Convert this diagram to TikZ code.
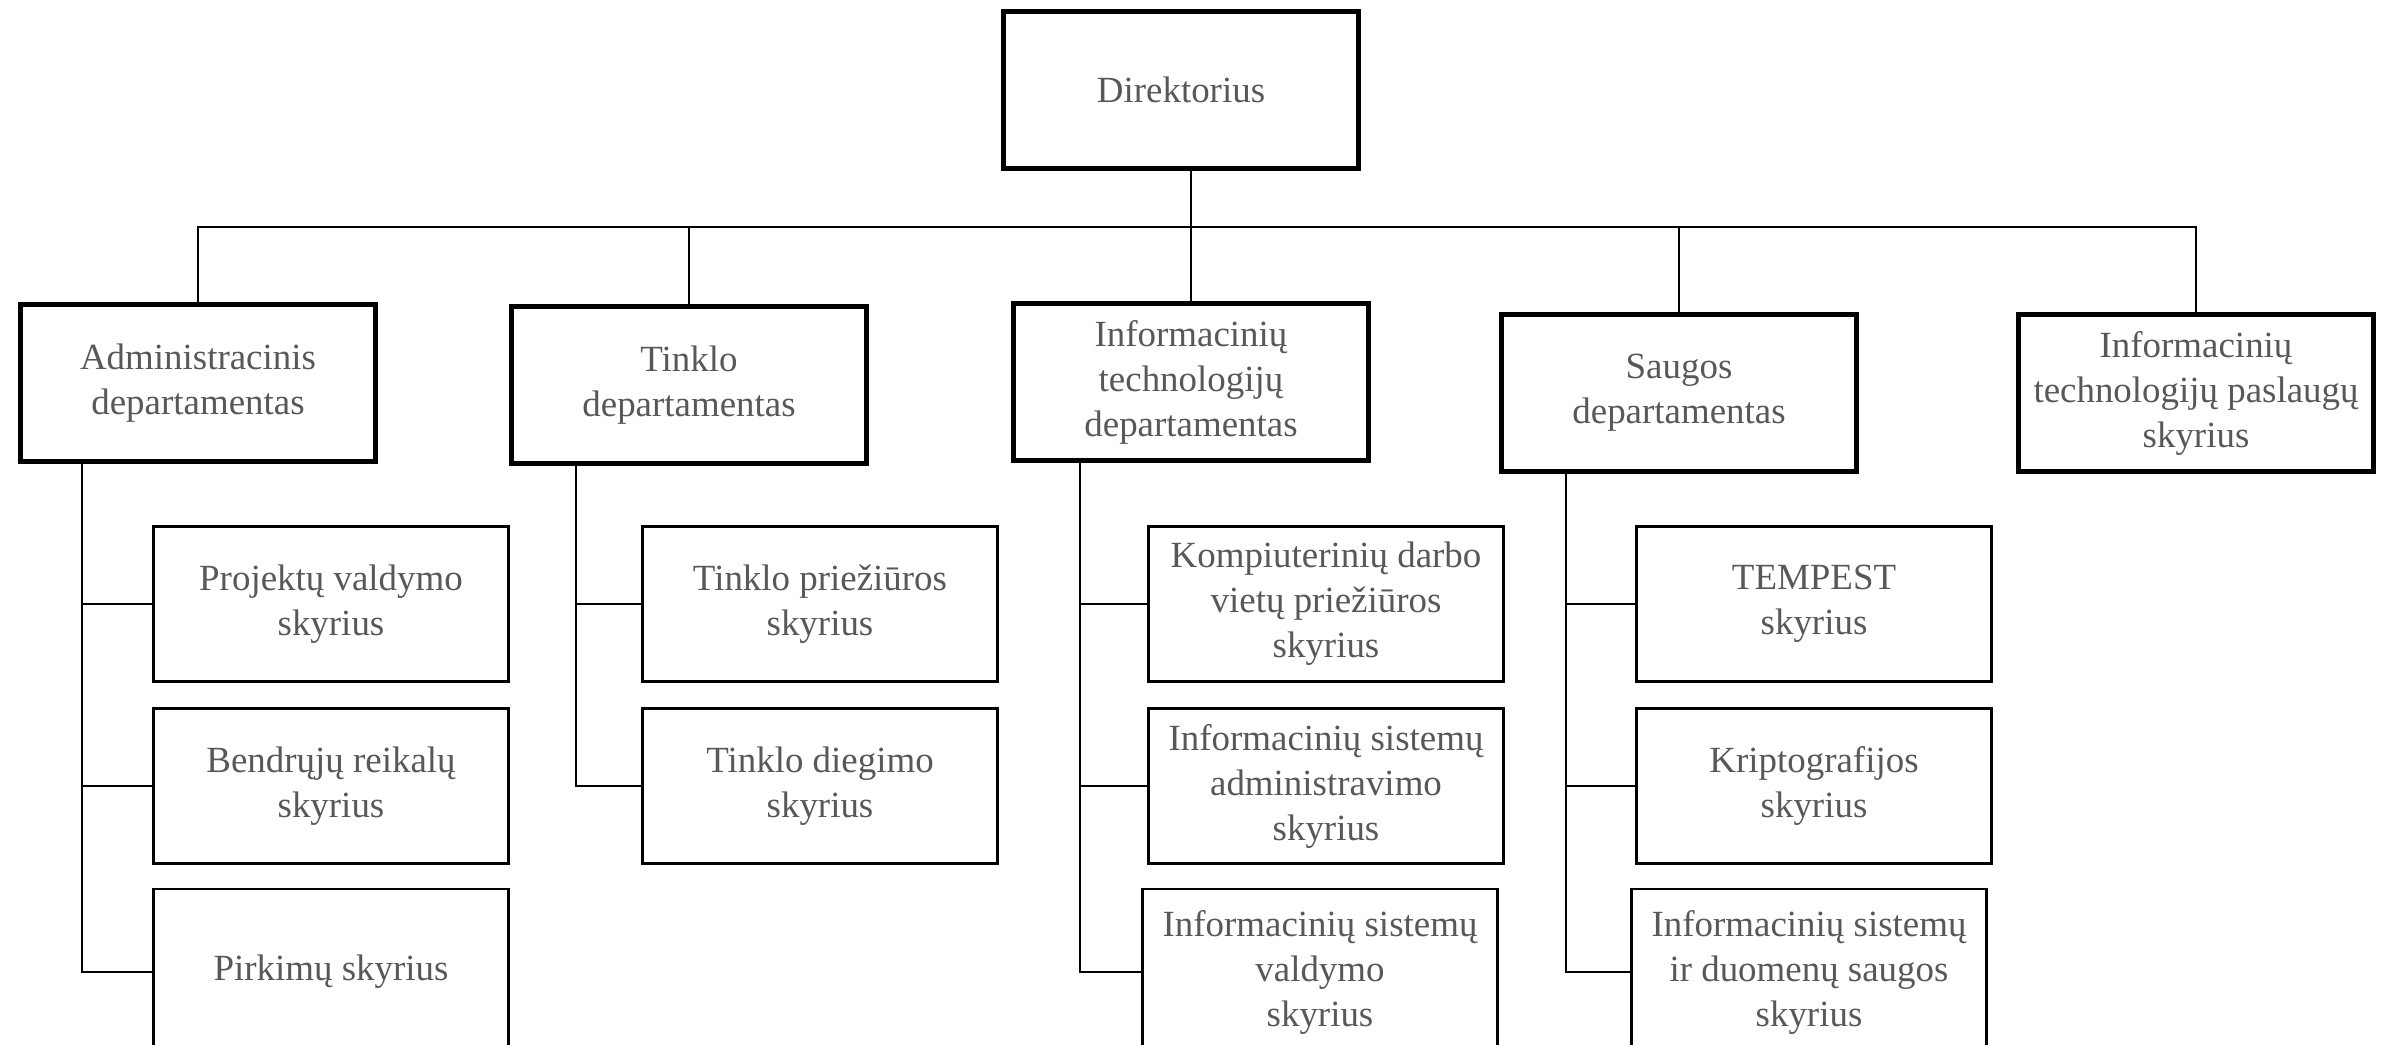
\documentclass[tikz,border=0pt]{standalone}
\usepackage{fontspec}
\setmainfont{Liberation Serif}
\definecolor{txtgray}{RGB}{88,88,88}

\begin{document}
\begin{tikzpicture}[x=0.01cm,y=-0.01cm,
  box/.style={draw,align=center,inner sep=0pt,text=txtgray,font=\fontsize{10.5}{12.8}\selectfont},
  dept/.style={box,line width=0.5mm,minimum width=3.54cm,minimum height=1.56cm},
  sub/.style={box,line width=0.28mm,minimum width=3.55cm,minimum height=1.55cm},
  link/.style={line width=0.2mm}]
\useasboundingbox (0,0) rectangle (2383,1044);

\node[dept](dir) at (1181,90) {Direktorius};
\node[dept](adm) at (198,383) {Administracinis\\departamentas};
\node[dept](tin) at (689,385) {Tinklo\\departamentas};
\node[dept](itd) at (1191,382) {Informacinių\\technologijų\\departamentas};
\node[dept](sau) at (1679,393) {Saugos\\departamentas};
\node[dept](itp) at (2196,393) {Informacinių\\technologijų paslaugų\\skyrius};

\node[sub](a1) at (331,604) {Projektų valdymo\\skyrius};
\node[sub](a2) at (331,786) {Bendrųjų reikalų\\skyrius};
\node[sub,minimum height=1.66cm](a3) at (331,972) {Pirkimų skyrius};
\node[sub](t1) at (820,604) {Tinklo priežiūros\\skyrius};
\node[sub](t2) at (820,786) {Tinklo diegimo\\skyrius};
\node[sub](i1) at (1326,604) {Kompiuterinių darbo\\vietų priežiūros\\skyrius};
\node[sub](i2) at (1326,786) {Informacinių sistemų\\administravimo\\skyrius};
\node[sub,minimum height=1.66cm](i3) at (1320,972) {Informacinių sistemų\\valdymo\\skyrius};
\node[sub](s1) at (1814,604) {TEMPEST\\skyrius};
\node[sub](s2) at (1814,786) {Kriptografijos\\skyrius};
\node[sub,minimum height=1.66cm](s3) at (1809,972) {Informacinių sistemų\\ir duomenų saugos\\skyrius};

% top level
\coordinate (bus) at (0,227);
\draw[link] (adm.north) -- (adm.north |- bus) -- (itp.north |- bus) -- (itp.north);
\draw[link] (tin.north) -- (tin.north |- bus);
\draw[link] (sau.north) -- (sau.north |- bus);
\draw[link] (dir.south -| itd.north) -- (itd.north);

% trunks
\coordinate (at) at (82,0);
\coordinate (tt) at (576,0);
\coordinate (it) at (1080,0);
\coordinate (st) at (1566,0);
\foreach \c in {a1,a2,a3} \draw[link] (adm.south -| at) |- (\c.west);
\foreach \c in {t1,t2} \draw[link] (tin.south -| tt) |- (\c.west);
\foreach \c in {i1,i2,i3} \draw[link] (itd.south -| it) |- (\c.west);
\foreach \c in {s1,s2,s3} \draw[link] (sau.south -| st) |- (\c.west);
\end{tikzpicture}
\end{document}
